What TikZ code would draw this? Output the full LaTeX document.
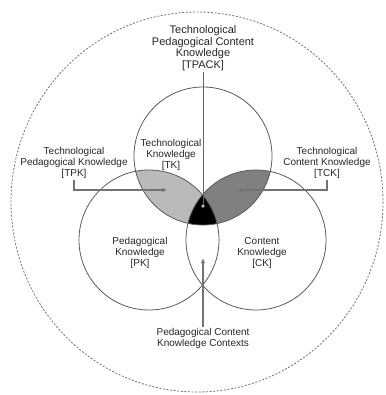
\documentclass[tikz,border=0pt]{standalone}
\usepackage{fontspec}
\setmainfont{Liberation Sans}
\usetikzlibrary{arrows.meta}

\begin{document}
\begin{tikzpicture}[x=1pt, y=-1pt,
	ring/.style={draw=black!65, line width=0.8pt},
	lbl/.style={align=center, text=black!85, inner sep=1pt, font=\fontsize{10}{11}\selectfont},
	lead/.style={draw=black!55, line width=1.1pt, -{Latex[open, length=5pt, width=4.5pt]}}]
	\useasboundingbox (0,0) rectangle (385,395);
	\coordinate (tk) at (203,156);
	\coordinate (pk) at (149,240);
	\coordinate (ck) at (256,240);
	% shaded overlaps
	\begin{scope}
		\clip (tk) circle (69);
		\fill[black!27] (pk) circle (70);
		\fill[black!50] (ck) circle (70);
		\clip (pk) circle (70);
		\fill[black] (ck) circle (70);
	\end{scope}
	\draw[draw=black!55, line width=0.8pt, dash pattern=on 2pt off 1.6pt] (197,202) ellipse (186 and 190);
	\draw[ring] (tk) circle (69);
	\draw[ring] (pk) circle (70);
	\draw[ring] (ck) circle (70);
	\node[lbl, font=\fontsize{11}{11.5}\selectfont] (tpack) at (203,48) {Technological\\Pedagogical Content\\Knowledge\\{[TPACK]}};
	\node[lbl] (tklbl) at (171,155) {Technological\\Knowledge\\{[TK]}};
	\node[lbl] (tpklbl) at (74,163) {Technological\\Pedagogical Knowledge\\{[TPK]}};
	\node[lbl] (tcklbl) at (327,163) {Technological\\Content Knowledge\\{[TCK]}};
	\node[lbl] (pklbl) at (140,253) {Pedagogical\\Knowledge\\{[PK]}};
	\node[lbl] (cklbl) at (262,253) {Content\\Knowledge\\{[CK]}};
	\node[lbl] (pcklbl) at (203,338) {Pedagogical Content\\Knowledge Contexts};
	\coordinate (core) at (203,208);
	\coordinate (tpkin) at (167,190);
	\coordinate (tckin) at (237,190);
	\coordinate (pckin) at (203,258);
	\draw[draw=black!60, line width=0.7pt, -{Circle[length=4pt, fill=white]}] (tpack.south) -- (core);
	\draw[lead] (tpklbl.south) |- (tpkin);
	\draw[lead] (tcklbl.south) |- (tckin);
	\draw[lead] (pcklbl.north) -- (pckin);
\end{tikzpicture}
\end{document}
